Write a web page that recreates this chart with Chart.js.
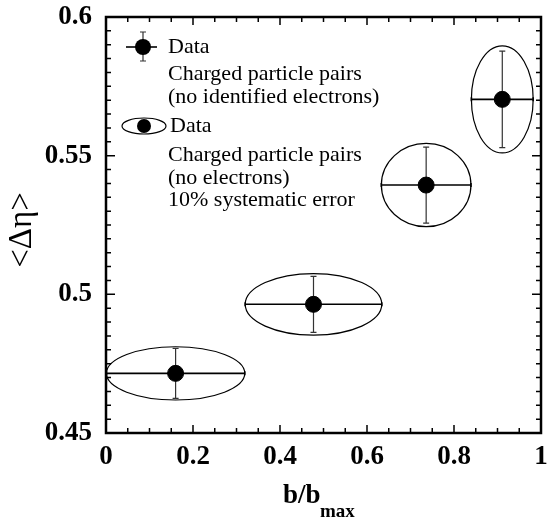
<!DOCTYPE html>
<html>
<head>
  <meta charset="utf-8" />
  <title>&lt;Δη&gt; vs b/bmax</title>
  <style>body{margin:0;background:#fff}</style>
</head>
<body>
  <canvas id="stage" width="550" height="523"></canvas>

  <script src="https://cdn.jsdelivr.net/npm/chart.js@4.4.0/dist/chart.umd.min.js"></script>
  <script>
    // values
    const bVals   = [0.16, 0.477, 0.736, 0.911];
    const etaVals = [0.4715, 0.4964, 0.5394, 0.5703];
    const etaStat = [0.0090, 0.0101, 0.0137, 0.0174];  // vertical error bars
    const bErr    = [0.159, 0.157, 0.103, 0.071];      // horizontal half width (bar + ellipse)
    const etaSys  = [0.0096, 0.0111, 0.0150, 0.0193];  // ellipse half height

    const xTickLabels = ['0', '0.2', '0.4', '0.6', '0.8', '1'];
    const yTickLabels = ['0.45', '0.5', '0.55', '0.6'];

    const legend1 = ['Data', 'Charged particle pairs', '(no identified electrons)'];
    const legend2 = ['Data', 'Charged particle pairs', '(no electrons)', '10% systematic error'];

    const serif = "'Liberation Serif', 'Times New Roman', serif";

    // ellipses, error bars, frame, inner ticks, titles and legend
    const decor = {
      id: 'decor',
      beforeDatasetsDraw(chart) {
        const {ctx, scales: {x, y}} = chart;
        ctx.save();
        ctx.strokeStyle = '#000';
        bVals.forEach((b, i) => {
          const cx = x.getPixelForValue(b);
          const cy = y.getPixelForValue(etaVals[i]);
          const rx = x.getPixelForValue(b + bErr[i]) - cx;
          const ry = cy - y.getPixelForValue(etaVals[i] + etaSys[i]);
          ctx.lineWidth = 1.2;
          ctx.beginPath();
          ctx.ellipse(cx, cy, rx, ry, 0, 0, 2 * Math.PI);
          ctx.stroke();

          // horizontal bar
          ctx.lineWidth = 1.6;
          ctx.beginPath();
          ctx.moveTo(cx - rx, cy); ctx.lineTo(cx + rx, cy);
          ctx.moveTo(cx - rx, cy - 2); ctx.lineTo(cx - rx, cy + 2);
          ctx.moveTo(cx + rx, cy - 2); ctx.lineTo(cx + rx, cy + 2);
          ctx.stroke();

          // vertical bar
          const top = y.getPixelForValue(etaVals[i] + etaStat[i]);
          const bot = y.getPixelForValue(etaVals[i] - etaStat[i]);
          ctx.strokeStyle = '#333';
          ctx.lineWidth = 1.2;
          ctx.beginPath();
          ctx.moveTo(cx, top); ctx.lineTo(cx, bot);
          ctx.moveTo(cx - 3, top); ctx.lineTo(cx + 3, top);
          ctx.moveTo(cx - 3, bot); ctx.lineTo(cx + 3, bot);
          ctx.stroke();
          ctx.strokeStyle = '#000';
        });
        ctx.restore();
      },
      afterDraw(chart) {
        const {ctx, chartArea: a, scales: {x, y}} = chart;
        ctx.save();
        ctx.strokeStyle = '#000';

        // inner ticks
        ctx.lineWidth = 1.5;
        ctx.beginPath();
        for (let k = 0; k <= 20; k++) {
          const px = x.getPixelForValue(k * 0.05);
          const len = k % 4 === 0 ? 8 : 5;
          ctx.moveTo(px, a.bottom); ctx.lineTo(px, a.bottom - len);
          ctx.moveTo(px, a.top); ctx.lineTo(px, a.top + len);
        }
        for (let k = 0; k <= 30; k++) {
          const py = y.getPixelForValue(0.45 + k * 0.005);
          const len = k % 10 === 0 ? 9 : 5;
          ctx.moveTo(a.left, py); ctx.lineTo(a.left + len, py);
          ctx.moveTo(a.right, py); ctx.lineTo(a.right - len, py);
        }
        ctx.stroke();

        // frame
        ctx.lineWidth = 2.5;
        ctx.strokeRect(a.left, a.top, a.right - a.left, a.bottom - a.top);

        // x title with subscript
        ctx.fillStyle = '#000';
        ctx.textBaseline = 'alphabetic';
        ctx.textAlign = 'left';
        ctx.font = 'bold 27px ' + serif;
        ctx.fillText('b/b', 283, 503);
        ctx.font = 'bold 19px ' + serif;
        ctx.fillText('max', 320, 517);

        // y title, rotated
        ctx.save();
        ctx.translate(31, 230);
        ctx.rotate(-Math.PI / 2);
        ctx.textAlign = 'center';
        ctx.font = '33px ' + serif;
        ctx.fillText('<Δη>', 0, 0);
        ctx.restore();

        // legend
        ctx.font = '22px ' + serif;
        ctx.textAlign = 'left';
        ctx.textBaseline = 'middle';
        const rows1 = [47, 74, 97];
        legend1.forEach((t, i) => ctx.fillText(t, 168, rows1[i]));
        const rows2 = [126, 155, 178, 200];
        legend2.forEach((t, i) => ctx.fillText(t, i === 0 ? 170 : 168, rows2[i]));

        // legend marker 1: point with error bars
        ctx.strokeStyle = '#333';
        ctx.lineWidth = 1.2;
        ctx.beginPath();
        ctx.moveTo(143, 32); ctx.lineTo(143, 61);
        ctx.moveTo(140, 32); ctx.lineTo(146, 32);
        ctx.moveTo(140, 61); ctx.lineTo(146, 61);
        ctx.stroke();
        ctx.strokeStyle = '#000';
        ctx.lineWidth = 1.6;
        ctx.beginPath();
        ctx.moveTo(126, 47); ctx.lineTo(157, 47);
        ctx.stroke();
        ctx.beginPath();
        ctx.arc(143, 47, 8, 0, 2 * Math.PI);
        ctx.fill();

        // legend marker 2: point in ellipse
        ctx.lineWidth = 1.2;
        ctx.beginPath();
        ctx.ellipse(144, 126, 22, 8, 0, 0, 2 * Math.PI);
        ctx.stroke();
        ctx.beginPath();
        ctx.arc(144, 126, 7, 0, 2 * Math.PI);
        ctx.fill();

        ctx.restore();
      }
    };

    new Chart(document.getElementById('stage'), {
      type: 'scatter',
      data: {
        datasets: [{
          data: bVals.map((b, i) => ({x: b, y: etaVals[i]})),
          backgroundColor: '#000',
          borderColor: '#000',
          pointRadius: 8,
          pointHoverRadius: 8,
          showLine: false
        }]
      },
      options: {
        responsive: false,
        animation: false,
        events: [],
        layout: {padding: {top: 17, right: 4, left: 0, bottom: 0}},
        plugins: {legend: {display: false}, tooltip: {enabled: false}},
        scales: {
          x: {
            type: 'linear', min: 0, max: 1,
            grid: {display: false, drawTicks: false},
            border: {display: false},
            afterFit: s => { s.height = 90; s.paddingLeft = 0; s.paddingRight = 0; },
            ticks: {
              stepSize: 0.2, padding: 8, color: '#000', maxRotation: 0,
              font: {family: serif, size: 27, weight: 'bold'},
              callback: (v, i) => xTickLabels[i]
            }
          },
          y: {
            type: 'linear', min: 0.45, max: 0.6,
            grid: {display: false, drawTicks: false},
            border: {display: false},
            afterFit: s => { s.width = 106; s.paddingTop = 0; s.paddingBottom = 0; },
            ticks: {
              stepSize: 0.05, padding: 14, color: '#000',
              font: {family: serif, size: 27, weight: 'bold'},
              callback: (v, i) => yTickLabels[i]
            }
          }
        }
      },
      plugins: [decor]
    });
  </script>
</body>
</html>
